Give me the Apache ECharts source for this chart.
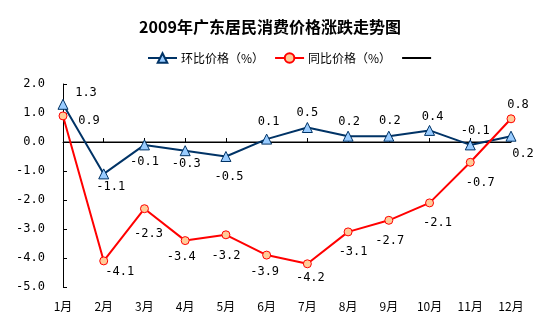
<!DOCTYPE html>
<html><head><meta charset="utf-8">
<script src="https://cdn.jsdelivr.net/npm/echarts@6/dist/echarts.min.js"></script>
<style>html,body{margin:0;padding:0;background:#fff}#c{width:542px;height:332px}</style>
</head><body><div id="c"></div>
<script>
var titleText = '2009年广东居民消费价格涨跌走势图';
var categories = ['1月','2月','3月','4月','5月','6月','7月','8月','9月','10月','11月','12月'];
var seriesNames = ['环比价格（%）','同比价格（%）',' '];
var momValues = [1.3, -1.1, -0.1, -0.3, -0.5, 0.1, 0.5, 0.2, 0.2, 0.4, -0.1, 0.2];
var yoyValues = [0.9, -4.1, -2.3, -3.4, -3.2, -3.9, -4.2, -3.1, -2.7, -2.1, -0.7, 0.8];
var zeroLine = [0,0,0,0,0,0,0,0,0,0,0,0];

// label offsets (style only)
var momOff = [[23,-11],[7,13],[0,17],[1,13],[3,20],[2,-17],[0,-15],[1,-14],[1,-15],[3,-14],[5,-14],[12,18]];
var yoyOff = [[26,5],[16,11],[4,25],[-4,16],[0,21],[-2,17],[3,14],[5,20],[1,21],[8,20],[10,21],[7,-14]];

var numFont = '"DejaVu Sans Mono", "Liberation Mono", monospace';
var cjkFont = '"Noto Sans CJK SC", sans-serif';

function mk(vals, offs){
  return vals.map(function(v,i){
    return {value: v, label: {offset: offs[i]}};
  });
}

var chart = echarts.init(document.getElementById('c'), null, {renderer:'canvas'});
chart.setOption({
  animation: false,
  backgroundColor: '#fff',
  title: {
    text: titleText, left: 265, top: 14, textAlign: 'center',
    textStyle: {fontSize: 16, fontWeight: 'bold', color: '#000', fontFamily: cjkFont}
  },
  legend: {
    data: [
      {name: seriesNames[0]},
      {name: seriesNames[1]},
      {name: seriesNames[2], itemStyle: {opacity: 0}}
    ],
    left: 142, top: 47, itemWidth: 29, itemHeight: 12, itemGap: 10,
    textStyle: {fontSize: 12, color: '#000', fontFamily: cjkFont, padding: [0,0,0,-1]}
  },
  grid: {left: 63, right: 31, top: 84, bottom: 45},
  xAxis: {
    type: 'category', data: categories, boundaryGap: false,
    axisLine: {lineStyle: {color: '#000', width: 1}},
    axisTick: {inside: true, length: 4, lineStyle: {color: '#000'}},
    axisLabel: {color: '#000', fontSize: 12, fontFamily: cjkFont, margin: 13, interval: 0},
    splitLine: {show: false}
  },
  yAxis: {
    type: 'value', min: -5, max: 2, interval: 1,
    axisLine: {show: true, lineStyle: {color: '#000', width: 1}},
    axisTick: {show: true, inside: true, length: 4, lineStyle: {color: '#000'}},
    axisLabel: {color: '#000', fontSize: 12, fontFamily: numFont, margin: 18,
      formatter: function(v){ return v.toFixed(1); }},
    splitLine: {show: false}
  },
  series: [
    {
      name: seriesNames[0], type: 'line', data: mk(momValues, momOff), z: 3,
      symbol: 'triangle', symbolSize: 10,
      lineStyle: {color: '#003366', width: 2},
      itemStyle: {color: '#99CCFF', borderColor: '#003366', borderWidth: 1},
      label: {show: true, position: 'inside', color: '#000', fontSize: 12, fontFamily: numFont,
        formatter: function(p){ return p.value.toFixed(1); }}
    },
    {
      name: seriesNames[1], type: 'line', data: mk(yoyValues, yoyOff), z: 4,
      symbol: 'circle', symbolSize: 8,
      lineStyle: {color: '#FF0000', width: 2},
      itemStyle: {color: '#FFCC99', borderColor: '#FF0000', borderWidth: 1},
      label: {show: true, position: 'inside', color: '#000', fontSize: 12, fontFamily: numFont,
        formatter: function(p){ return p.value.toFixed(1); }}
    },
    {
      name: seriesNames[2], type: 'line', data: zeroLine, z: 2,
      symbol: 'none', lineStyle: {color: '#000', width: 1}, itemStyle: {color: '#000'},
      silent: true
    }
  ]
});
</script>
</body></html>
